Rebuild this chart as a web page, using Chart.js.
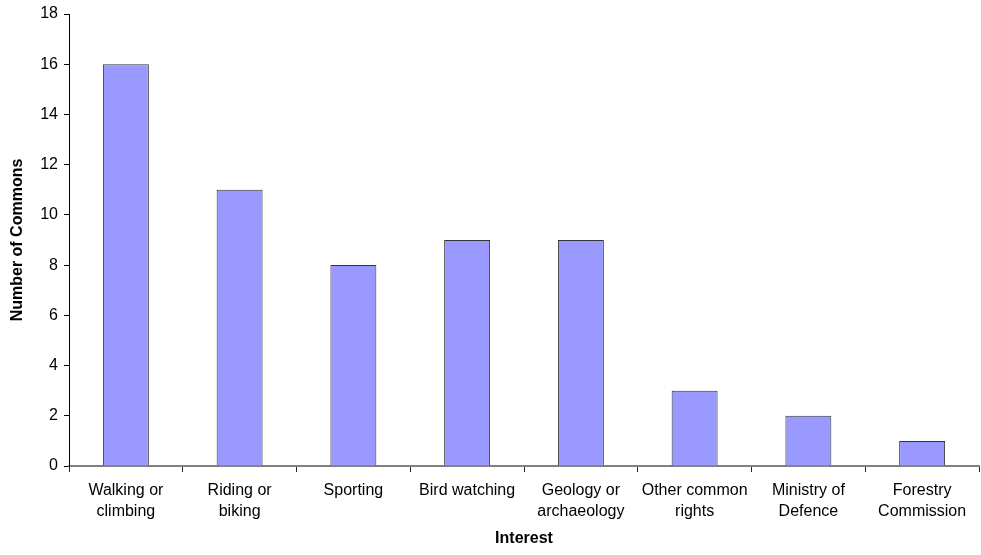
<!DOCTYPE html>
<html>
<head>
<meta charset="utf-8">
<script src="https://cdn.jsdelivr.net/npm/chart.js@4.4.1/dist/chart.umd.min.js"></script>
<style>
  html, body { margin: 0; padding: 0; background: #fff; }
  #wrap { width: 981px; height: 555px; position: relative; }
</style>
</head>
<body>
<div id="wrap"><canvas id="commonsChart"></canvas></div>
<script>
// Interests recorded on commons
const interests = [
    ['Walking or', 'climbing'],
    ['Riding or', 'biking'],
    'Sporting',
    'Bird watching',
    ['Geology or', 'archaeology'],
    ['Other common', 'rights'],
    ['Ministry of', 'Defence'],
    ['Forestry', 'Commission']
];
const commonsCount = [16, 11, 8, 9, 9, 3, 2, 1];
const yTicks = [0, 2, 4, 6, 8, 10, 12, 14, 16, 18];

const FONT = "'Liberation Sans', Arial, sans-serif";

const ctx = document.getElementById('commonsChart').getContext('2d');
new Chart(ctx, {
    type: 'bar',
    data: {
        labels: interests,
        datasets: [{
            data: commonsCount,
            backgroundColor: '#9999ff',
            borderColor: '#333333',
            borderWidth: 1,
            borderSkipped: 'bottom',
            barPercentage: 0.404,
            categoryPercentage: 1
        }]
    },
    options: {
        responsive: true,
        maintainAspectRatio: false,
        animation: false,
        layout: { padding: { top: 14, right: 2, left: 0, bottom: 0 } },
        plugins: {
            legend: { display: false },
            tooltip: { enabled: false }
        },
        scales: {
            x: {
                offset: true,
                grid: {
                    offset: true,
                    drawOnChartArea: false,
                    drawTicks: true,
                    tickLength: 6,
                    color: '#222'
                },
                border: { color: '#808080', width: 2 },
                ticks: {
                    color: '#000',
                    font: { family: FONT, size: 16, lineHeight: 1.3 },
                    maxRotation: 0,
                    autoSkip: false,
                    padding: 8
                },
                title: {
                    display: true,
                    text: 'Interest',
                    color: '#000',
                    font: { family: FONT, size: 16, weight: 'bold' },
                    padding: { top: 0, bottom: 7 }
                },
                afterFit: function (scale) { scale.height = 89; }
            },
            y: {
                min: 0,
                max: 18,
                afterBuildTicks: function (scale) {
                    scale.ticks = yTicks.map(v => ({ value: v }));
                },
                grid: {
                    drawOnChartArea: false,
                    drawTicks: true,
                    tickLength: 5,
                    color: '#000'
                },
                border: { color: '#000', width: 1 },
                ticks: {
                    color: '#000',
                    font: { family: FONT, size: 16 },
                    padding: 6
                },
                title: {
                    display: true,
                    text: 'Number of Commons',
                    color: '#000',
                    font: { family: FONT, size: 16, weight: 'bold' },
                    padding: { top: 8, bottom: 0 }
                },
                afterFit: function (scale) {
                    scale.width = 69;
                    scale.paddingTop = 0;
                    scale.paddingBottom = 0;
                }
            }
        }
    }
});
</script>
</body>
</html>
